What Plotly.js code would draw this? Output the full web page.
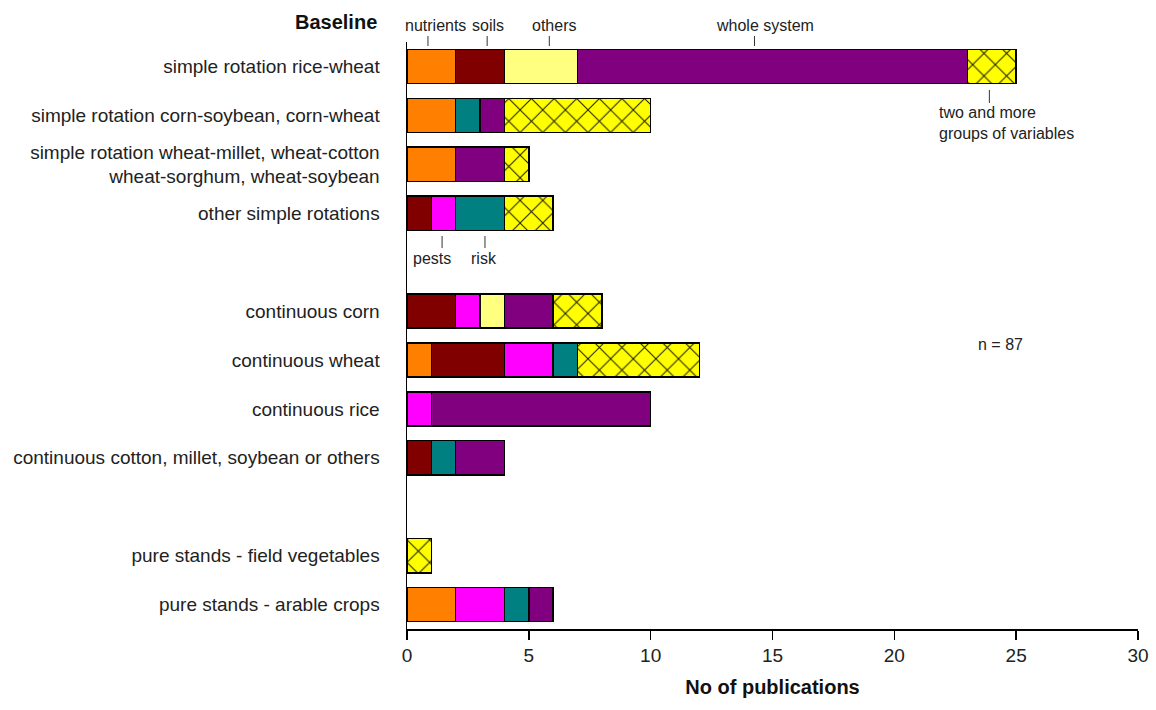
<!DOCTYPE html>
<html>
<head>
<meta charset="utf-8">
<script src="https://cdn.plot.ly/plotly-3.0.1.min.js"></script>
<style>
  html, body { margin: 0; padding: 0; background: #ffffff; }
  #chart { width: 1156px; height: 710px; }
</style>
</head>
<body>
<div id="chart"></div>
<script>
// Baseline cropping systems (blank entries separate the three groups)
const categories = [
  'simple rotation rice-wheat',
  'simple rotation corn-soybean, corn-wheat',
  'simple rotation wheat-millet, wheat-cotton<br>wheat-sorghum, wheat-soybean',
  'other simple rotations',
  ' ',
  'continuous corn',
  'continuous wheat',
  'continuous rice',
  'continuous cotton, millet, soybean or others',
  '  ',
  'pure stands - field vegetables',
  'pure stands - arable crops'
];

// Number of publications per group of studied variables
const nutrients   = [2, 2, 2, null, null, null, 1, null, null, null, null, 2];
const soils       = [2, null, null, 1, null, 2, 3, null, 1, null, null, null];
const pests       = [null, null, null, 1, null, 1, 2, 1, null, null, null, 2];
const risk        = [null, 1, null, 2, null, null, 1, null, 1, null, null, 1];
const others      = [3, null, null, null, null, 1, null, null, null, null, null, null];
const wholeSystem = [16, 1, 2, null, null, 2, null, 9, 2, null, null, 1];
const twoAndMore  = [2, 6, 1, 2, null, 2, 5, null, null, null, 1, null];

const totalPublications = 87;

const FONT = 'Liberation Sans, Arial, Helvetica, sans-serif';
const W = 1156, H = 710;
const M = { l: 407, r: 18, t: 42, b: 81 };
// convert a pixel row of the page to a paper fraction
const yp = p => (H - M.b - p) / (H - M.t - M.b);

const edge = { color: '#000000', width: 1.5 };

function seriesTrace(name, values, color, pattern) {
  const marker = { color: color, line: edge };
  if (pattern) marker.pattern = pattern;
  return {
    type: 'bar',
    orientation: 'h',
    name: name,
    y: categories,
    x: values,
    marker: marker,
    hoverinfo: 'skip'
  };
}

const data = [
  seriesTrace('nutrients', nutrients, '#FF8000'),
  seriesTrace('soils', soils, '#800000'),
  seriesTrace('pests', pests, '#FF00FF'),
  seriesTrace('risk', risk, '#008080'),
  seriesTrace('others', others, '#FFFF80'),
  seriesTrace('whole system', wholeSystem, '#800080'),
  seriesTrace('two and more groups of variables', twoAndMore, '#FFFF00',
    { shape: 'x', bgcolor: '#FFFF00', fgcolor: '#1a1a00', fgopacity: 1,
      size: 16, solidity: 0.12 })
];

const note = (text, x, yPix, extra) => Object.assign({
  text: text, x: x, y: yp(yPix), xref: 'x', yref: 'paper',
  xanchor: 'center', yanchor: 'middle', showarrow: false,
  font: { family: FONT, size: 16, color: '#222222' }
}, extra || {});

const tickMark = (x, y0, y1) => ({
  type: 'line', xref: 'x', yref: 'paper',
  x0: x, x1: x, y0: yp(y0), y1: yp(y1),
  line: { color: '#333333', width: 1 }
});

const layout = {
  width: W, height: H,
  margin: M,
  paper_bgcolor: '#ffffff',
  plot_bgcolor: '#ffffff',
  barmode: 'stack',
  bargap: 0.3,
  showlegend: false,
  font: { family: FONT, color: '#222222' },
  xaxis: {
    range: [0, 30],
    tickvals: [0, 5, 10, 15, 20, 25, 30],
    ticks: 'outside', ticklen: 9, tickwidth: 1.5, tickcolor: '#000000',
    showline: true, linecolor: '#000000', linewidth: 1.5,
    showgrid: false, zeroline: false,
    tickfont: { family: FONT, size: 19, color: '#222222' },
    title: { text: '<b>No of publications</b>', standoff: 14,
             font: { family: FONT, size: 20, color: '#111111' } },
    automargin: false, fixedrange: true
  },
  yaxis: {
    type: 'category',
    categoryorder: 'array',
    categoryarray: categories,
    range: [categories.length - 0.5, -0.5],
    showline: true, linecolor: '#000000', linewidth: 1.5,
    showgrid: false, zeroline: false,
    ticks: 'outside', ticklen: 22, tickcolor: 'rgba(0,0,0,0)',
    tickfont: { family: FONT, size: 19, color: '#222222' },
    automargin: false, fixedrange: true
  },
  annotations: [
    { text: '<b>Baseline</b>', xref: 'paper', yref: 'paper',
      x: (379 - M.l) / (W - M.l - M.r), y: yp(22), xanchor: 'right', yanchor: 'middle',
      showarrow: false, font: { family: FONT, size: 20, color: '#111111' } },
    note('nutrients', 1.17, 25),
    note('soils', 3.33, 25),
    note('others', 6.04, 25),
    note('whole system', 14.7, 25),
    note('pests', 1.03, 258),
    note('risk', 3.16, 258),
    note('two and more<br>groups of variables', 21.74, 123, { xanchor: 'left', align: 'left' }),
    note('n = ' + totalPublications, 24.37, 344)
  ],
  shapes: [
    tickMark(0.86, 36, 46),
    tickMark(3.29, 36, 46),
    tickMark(5.84, 36, 46),
    tickMark(14.26, 36, 46),
    tickMark(1.44, 236, 248),
    tickMark(3.2, 236, 248),
    tickMark(23.9, 90, 103)
  ]
};

Plotly.newPlot('chart', data, layout, { staticPlot: true, displayModeBar: false });
</script>
</body>
</html>
